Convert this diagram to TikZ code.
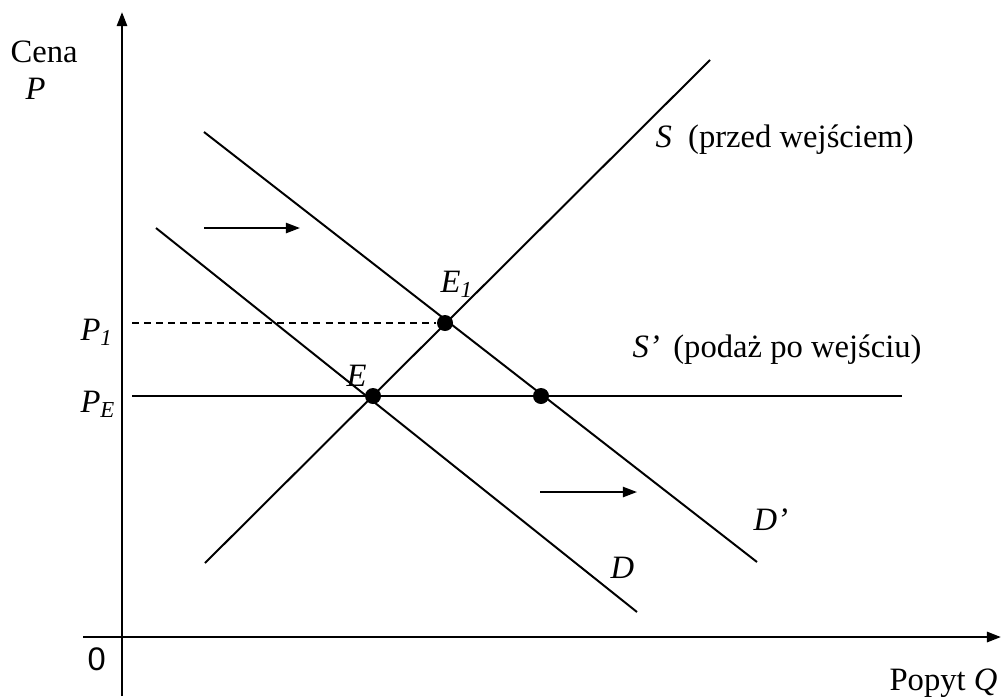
\documentclass[tikz,border=0pt]{standalone}
\usepackage{fontspec}
\setmainfont{Liberation Serif}
\newfontfamily\zerofont{Liberation Sans}
\usetikzlibrary{arrows.meta}

\begin{document}
\begin{tikzpicture}[
  x=0.0125cm, y=-0.0125cm,
  axis/.style={line width=0.9pt, -{Triangle[length=5pt, width=3.6pt]}},
  curve/.style={line width=0.7pt},
  shiftarr/.style={line width=0.7pt, -{Triangle[length=5pt, width=3.6pt]}},
  guide/.style={line width=0.7pt, dash pattern=on 2.5pt off 1.8pt},
  dot/.style={circle, fill=black, minimum size=0.2cm, inner sep=0pt},
  lbl/.style={anchor=base west, inner sep=0pt, font=\fontsize{11.6}{14}\selectfont}
]
\useasboundingbox (0,0) rectangle (1003,696);

% axes
\coordinate (ybot) at (122,696);
\coordinate (ytop) at (122,12);
\coordinate (xleft) at (83,637);
\coordinate (xright) at (1001,637);
\draw[axis] (ybot) -- (ytop);
\draw[axis] (xleft) -- (xright);

% curve end points
\coordinate (sLow) at (205,563);
\coordinate (sHigh) at (710,60);
\coordinate (dTop) at (156,228);
\coordinate (dBot) at (637,612);
\coordinate (dpTop) at (204,132);
\coordinate (dpBot) at (757,562);
\coordinate (spLeft) at (132,396);
\coordinate (spRight) at (902,396);
\coordinate (pOne) at (132,323);

% equilibria
\node[dot] (E) at (373,396) {};
\node[dot] (E1) at (445,323) {};
\node[dot] (E2) at (541,396) {};

\draw[curve] (sLow) -- (sHigh);
\draw[curve] (dTop) -- (dBot);
\draw[curve] (dpTop) -- (dpBot);
\draw[curve] (spLeft) -- (spRight);
\draw[guide] (pOne) -- (E1.west);

% shift arrows
\coordinate (aUpL) at (204,228);
\coordinate (aUpR) at (300,228);
\coordinate (aLoL) at (540,492);
\coordinate (aLoR) at (637,492);
\draw[shiftarr] (aUpL) -- (aUpR);
\draw[shiftarr] (aLoL) -- (aLoR);

% labels
\node[lbl] (cena) at (10,62) {Cena};
\node[lbl] (pAxis) at (25,99) {\textit{P}};
\node[lbl] (pOneLbl) at (80,340) {\textit{P}\textsubscript{\textit{1}}};
\node[lbl] (pELbl) at (80,412) {\textit{P}\textsubscript{\textit{E}}};
\node[lbl] (E1Lbl) at (440,292) {\textit{E}\textsubscript{\textit{1}}};
\node[lbl] (ELbl) at (346,386) {\textit{E}};
\node[lbl] (sLbl) at (655,147) {\textit{S}\ \ (przed wejściem)};
\node[lbl] (spLbl) at (632,357) {\textit{S’}\ \,(podaż po wejściu)};
\node[lbl] (dpLbl) at (753,530) {\textit{D’}};
\node[lbl] (dLbl) at (610,578) {\textit{D}};
\node[lbl, font=\zerofont\fontsize{11.6}{14}\selectfont] (zero) at (87,670) {0};
\node[lbl, anchor=base east] (popyt) at (998,690) {Popyt \textit{Q}};

\end{tikzpicture}
\end{document}
